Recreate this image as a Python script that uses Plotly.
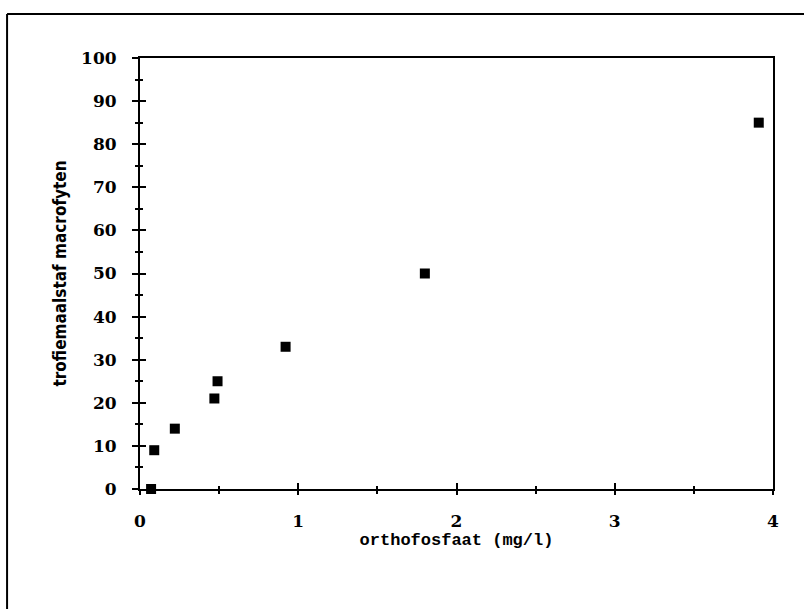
import plotly.graph_objects as go

# Data
orthofosfaat = [0.07, 0.09, 0.22, 0.47, 0.49, 0.92, 1.80, 3.91]
trofiemaalstaf = [0, 9, 14, 21, 25, 33, 50, 85]

x_ticks = [0, 1, 2, 3, 4]
y_ticks = [0, 10, 20, 30, 40, 50, 60, 70, 80, 90, 100]

tick_font = dict(family="DejaVu Serif", size=17, color="black", weight="bold")

fig = go.Figure()
fig.add_trace(go.Scatter(
    x=orthofosfaat, y=trofiemaalstaf, mode="markers",
    marker=dict(symbol="square", size=10, color="black"),
    cliponaxis=False, showlegend=False,
))
# empty trace to carry the overlay axes (inner halves of the crossing ticks)
fig.add_trace(go.Scatter(x=[], y=[], xaxis="x2", yaxis="y2", showlegend=False))

fig.update_layout(
    width=804, height=609,
    margin=dict(l=140, r=31, t=58, b=120),
    paper_bgcolor="white", plot_bgcolor="white",
    xaxis=dict(
        range=[0, 4], tickvals=x_ticks, ticktext=[str(v) for v in x_ticks],
        showline=True, linecolor="black", linewidth=2, mirror=True,
        ticks="outside", ticklen=4, tickwidth=1.5, tickcolor="black",
        minor=dict(dtick=0.5, ticks="outside", ticklen=3, tickcolor="black", tickwidth=1.5),
        showgrid=False, zeroline=False,
        tickfont=tick_font, ticklabelstandoff=12,
        title=dict(text="orthofosfaat (mg/l)", standoff=2,
                   font=dict(family="Liberation Mono", size=17, color="black", weight="bold")),
    ),
    yaxis=dict(
        range=[0, 100], tickvals=y_ticks, ticktext=[str(v) for v in y_ticks],
        showline=True, linecolor="black", linewidth=2, mirror=True,
        ticks="outside", ticklen=6, tickwidth=1.5, tickcolor="black",
        minor=dict(dtick=5, ticks="outside", ticklen=3, tickcolor="black", tickwidth=1.5),
        showgrid=False, zeroline=False,
        tickfont=tick_font, ticklabelstandoff=12,
        title=dict(text="trofiemaalstaf macrofyten", standoff=10,
                   font=dict(family="Liberation Sans Narrow, DejaVu Sans Condensed", size=17,
                             color="black", weight="bold")),
    ),
    xaxis2=dict(
        overlaying="x", anchor="y2", side="bottom", range=[0, 4], tickvals=x_ticks,
        showticklabels=False, showline=False, showgrid=False, zeroline=False,
        ticks="inside", ticklen=6, tickwidth=1.5, tickcolor="black",
        minor=dict(dtick=0.5, ticks="inside", ticklen=3, tickcolor="black", tickwidth=1.5),
    ),
    yaxis2=dict(
        overlaying="y", anchor="x2", side="left", range=[0, 100], tickvals=y_ticks,
        showticklabels=False, showline=False, showgrid=False, zeroline=False,
        ticks="inside", ticklen=6, tickwidth=1.5, tickcolor="black",
        minor=dict(dtick=5, ticks="inside", ticklen=3, tickcolor="black", tickwidth=1.5),
    ),
    shapes=[
        # scanned page frame: top and left edges
        dict(type="line", xref="paper", yref="paper", x0=-0.21, x1=1.06, y0=1.102, y1=1.102,
             line=dict(color="black", width=2)),
        dict(type="line", xref="paper", yref="paper", x0=-0.21, x1=-0.21, y0=1.102, y1=-0.29,
             line=dict(color="black", width=2)),
    ],
)

fig.write_html("out.html")
